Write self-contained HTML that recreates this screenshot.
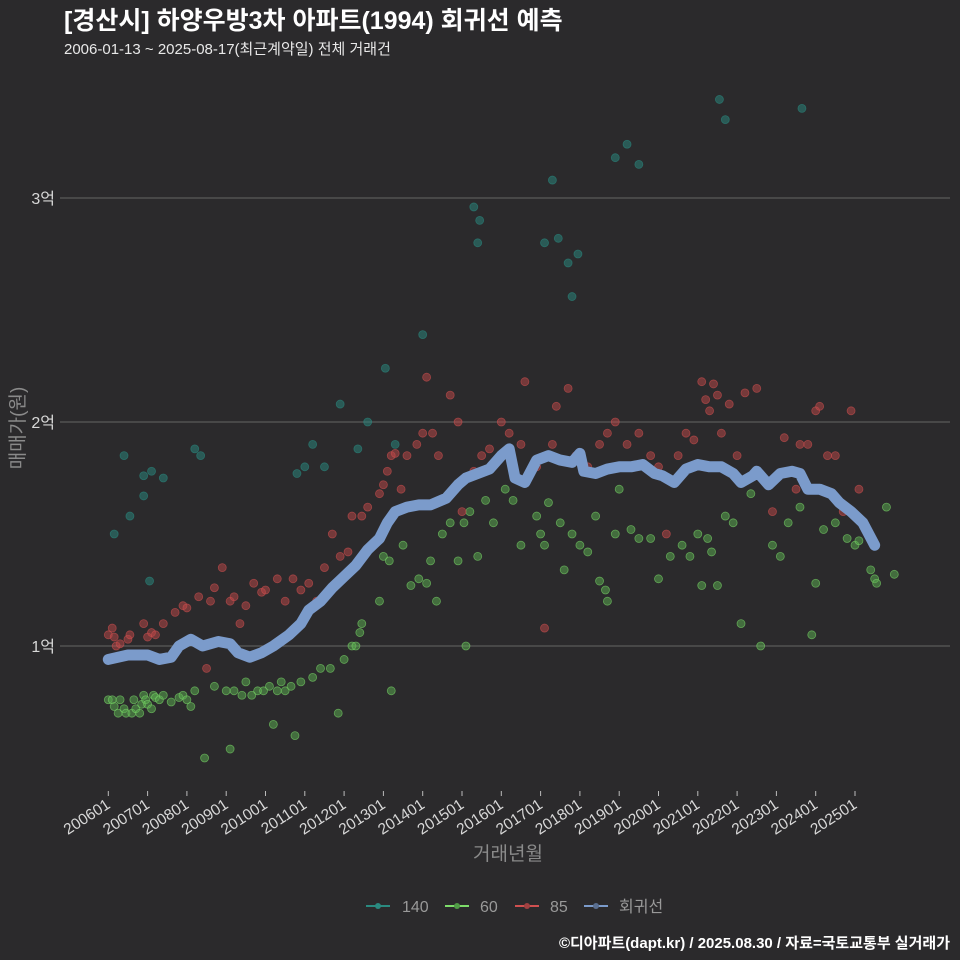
<!DOCTYPE html>
<html><head><meta charset="utf-8">
<style>
body{margin:0;background:#2b2a2c;}
svg{display:block;font-family:"Liberation Sans","Noto Sans CJK KR",sans-serif;}
</style></head>
<body>
<svg id="chart" width="960" height="960" viewBox="0 0 960 960" xmlns="http://www.w3.org/2000/svg">
<rect width="960" height="960" fill="#2b2a2c"/>
<text x="64" y="29" fill="#ffffff" font-size="25" font-weight="bold">[경산시] 하양우방3차 아파트(1994) 회귀선 예측</text>
<text x="64" y="54" fill="#e8e8e8" font-size="15">2006-01-13 ~ 2025-08-17(최근계약일) 전체 거래건</text>
<g id="grid"></g>
<g id="points"></g>
<g id="reg"></g>
<g id="axes"></g>
<text x="508" y="860" fill="#8a8a8a" font-size="19" text-anchor="middle">거래년월</text>
<text transform="translate(24,428) rotate(-90)" fill="#8a8a8a" font-size="19" text-anchor="middle">매매가(원)</text>
<g>
<g><line x1="366" y1="906" x2="390" y2="906" stroke="#2a8a80" stroke-width="2"/><circle cx="378" cy="906" r="3" fill="#2a8a80"/><text x="402" y="912" fill="#999" font-size="16">140</text></g>
<g><line x1="445" y1="906" x2="469" y2="906" stroke="#7ddc6a" stroke-width="2"/><circle cx="457" cy="906" r="3" fill="#4f9a45"/><text x="480" y="912" fill="#999" font-size="16">60</text></g>
<g><line x1="515" y1="906" x2="539" y2="906" stroke="#d05050" stroke-width="2"/><circle cx="527" cy="906" r="3" fill="#a04040"/><text x="550" y="912" fill="#999" font-size="16">85</text></g>
<g><line x1="584" y1="906" x2="608" y2="906" stroke="#7b9bcb" stroke-width="2"/><circle cx="596" cy="906" r="3" fill="#5a6f90"/><text x="619" y="912" fill="#999" font-size="16">회귀선</text></g>
</g>
<text x="950" y="948" fill="#ffffff" font-size="15" font-weight="bold" text-anchor="end">©디아파트(dapt.kr) / 2025.08.30 / 자료=국토교통부 실거래가</text>
</svg>
<script>
const yTicks=[1,2,3];
const yTickLabels=["1억","2억","3억"];
const xTickYears=[2006,2007,2008,2009,2010,2011,2012,2013,2014,2015,2016,2017,2018,2019,2020,2021,2022,2023,2024,2025];
const xTickLabels=["200601","200701","200801","200901","201001","201101","201201","201301","201401","201501","201601","201701","201801","201901","202001","202101","202201","202301","202401","202501"];
const s140=[[2006.15,1.5],[2006.4,1.85],[2006.55,1.58],[2006.9,1.67],[2006.9,1.76],[2007.05,1.29],[2007.1,1.78],[2007.4,1.75],[2008.2,1.88],[2008.35,1.85],[2010.8,1.77],[2011.0,1.8],[2011.2,1.9],[2011.5,1.8],[2011.9,2.08],[2012.35,1.88],[2012.6,2.0],[2013.05,2.24],[2013.3,1.9],[2014.0,2.39],[2015.3,2.96],[2015.4,2.8],[2015.45,2.9],[2017.1,2.8],[2017.3,3.08],[2017.45,2.82],[2017.7,2.71],[2017.8,2.56],[2017.95,2.75],[2018.9,3.18],[2019.2,3.24],[2019.5,3.15],[2021.55,3.44],[2021.7,3.35],[2023.65,3.4]];
const s60=[[2006.0,0.76],[2006.1,0.76],[2006.15,0.73],[2006.25,0.7],[2006.3,0.76],[2006.4,0.72],[2006.45,0.7],[2006.6,0.7],[2006.65,0.76],[2006.7,0.72],[2006.8,0.7],[2006.85,0.74],[2006.9,0.78],[2006.95,0.76],[2007.0,0.74],[2007.1,0.72],[2007.15,0.78],[2007.2,0.77],[2007.3,0.76],[2007.4,0.78],[2007.6,0.75],[2007.8,0.77],[2007.9,0.78],[2008.0,0.76],[2008.1,0.73],[2008.2,0.8],[2008.45,0.5],[2008.7,0.82],[2009.0,0.8],[2009.1,0.54],[2009.2,0.8],[2009.4,0.78],[2009.5,0.84],[2009.65,0.78],[2009.8,0.8],[2009.95,0.8],[2010.1,0.82],[2010.2,0.65],[2010.3,0.8],[2010.4,0.84],[2010.5,0.8],[2010.65,0.82],[2010.75,0.6],[2010.9,0.84],[2011.2,0.86],[2011.4,0.9],[2011.65,0.9],[2011.85,0.7],[2012.0,0.94],[2012.2,1.0],[2012.3,1.0],[2012.4,1.06],[2012.45,1.1],[2012.9,1.2],[2013.0,1.4],[2013.15,1.38],[2013.2,0.8],[2013.5,1.45],[2013.7,1.27],[2013.9,1.3],[2014.1,1.28],[2014.2,1.38],[2014.35,1.2],[2014.5,1.5],[2014.7,1.55],[2014.9,1.38],[2015.05,1.55],[2015.1,1.0],[2015.2,1.6],[2015.4,1.4],[2015.6,1.65],[2015.8,1.55],[2016.1,1.7],[2016.3,1.65],[2016.5,1.45],[2016.9,1.58],[2017.0,1.5],[2017.1,1.45],[2017.2,1.64],[2017.5,1.55],[2017.6,1.34],[2017.8,1.5],[2018.0,1.45],[2018.2,1.42],[2018.4,1.58],[2018.5,1.29],[2018.65,1.25],[2018.7,1.2],[2018.9,1.5],[2019.0,1.7],[2019.3,1.52],[2019.5,1.48],[2019.8,1.48],[2020.0,1.3],[2020.3,1.4],[2020.6,1.45],[2020.8,1.4],[2021.0,1.5],[2021.1,1.27],[2021.25,1.48],[2021.35,1.42],[2021.5,1.27],[2021.7,1.58],[2021.9,1.55],[2022.1,1.1],[2022.35,1.68],[2022.6,1.0],[2022.9,1.45],[2023.1,1.4],[2023.3,1.55],[2023.6,1.62],[2023.9,1.05],[2024.0,1.28],[2024.2,1.52],[2024.5,1.55],[2024.8,1.48],[2025.0,1.45],[2025.1,1.47],[2025.4,1.34],[2025.5,1.3],[2025.55,1.28],[2025.8,1.62],[2026.0,1.32]];
const s85=[[2006.0,1.05],[2006.1,1.08],[2006.15,1.04],[2006.2,1.0],[2006.3,1.01],[2006.5,1.03],[2006.55,1.05],[2006.9,1.1],[2007.0,1.04],[2007.1,1.06],[2007.2,1.05],[2007.4,1.1],[2007.7,1.15],[2007.9,1.18],[2008.0,1.17],[2008.3,1.22],[2008.5,0.9],[2008.6,1.2],[2008.7,1.26],[2008.9,1.35],[2009.1,1.2],[2009.2,1.22],[2009.35,1.1],[2009.5,1.18],[2009.7,1.28],[2009.9,1.24],[2010.0,1.25],[2010.3,1.3],[2010.5,1.2],[2010.7,1.3],[2010.9,1.25],[2011.1,1.28],[2011.3,1.2],[2011.5,1.35],[2011.7,1.5],[2011.9,1.4],[2012.1,1.42],[2012.2,1.58],[2012.45,1.58],[2012.6,1.62],[2012.9,1.68],[2013.0,1.72],[2013.1,1.78],[2013.2,1.85],[2013.3,1.86],[2013.45,1.7],[2013.6,1.85],[2013.85,1.9],[2014.0,1.95],[2014.1,2.2],[2014.25,1.95],[2014.4,1.85],[2014.7,2.12],[2014.9,2.0],[2015.0,1.6],[2015.3,1.78],[2015.5,1.85],[2015.7,1.88],[2016.0,2.0],[2016.2,1.95],[2016.5,1.9],[2016.6,2.18],[2016.9,1.8],[2017.1,1.08],[2017.3,1.9],[2017.4,2.07],[2017.7,2.15],[2017.9,1.85],[2018.2,1.8],[2018.5,1.9],[2018.7,1.95],[2018.9,2.0],[2019.2,1.9],[2019.5,1.95],[2019.8,1.85],[2020.0,1.8],[2020.2,1.5],[2020.5,1.85],[2020.7,1.95],[2020.9,1.92],[2021.1,2.18],[2021.2,2.1],[2021.3,2.05],[2021.4,2.17],[2021.5,2.12],[2021.6,1.95],[2021.8,2.08],[2022.0,1.85],[2022.2,2.13],[2022.5,2.15],[2022.9,1.6],[2023.2,1.93],[2023.5,1.7],[2023.6,1.9],[2023.8,1.9],[2024.0,2.05],[2024.1,2.07],[2024.3,1.85],[2024.5,1.85],[2024.7,1.6],[2024.9,2.05],[2025.1,1.7]];
const regT=[2006.0,2006.5,2007.0,2007.3,2007.6,2007.8,2008.1,2008.4,2008.8,2009.1,2009.3,2009.6,2009.9,2010.2,2010.6,2010.9,2011.1,2011.4,2011.7,2012.0,2012.3,2012.6,2012.9,2013.1,2013.3,2013.6,2013.9,2014.2,2014.6,2014.9,2015.1,2015.4,2015.7,2016.0,2016.2,2016.35,2016.6,2016.9,2017.2,2017.5,2017.8,2018.0,2018.1,2018.4,2018.7,2019.0,2019.3,2019.6,2019.9,2020.1,2020.4,2020.7,2021.0,2021.3,2021.6,2021.9,2022.1,2022.4,2022.5,2022.8,2023.1,2023.4,2023.6,2023.8,2024.1,2024.4,2024.6,2024.9,2025.2,2025.5];
const regV=[0.94,0.96,0.96,0.94,0.95,1.0,1.03,1.0,1.02,1.01,0.97,0.95,0.97,1.0,1.05,1.1,1.16,1.2,1.26,1.31,1.36,1.43,1.48,1.55,1.6,1.62,1.63,1.63,1.66,1.72,1.75,1.77,1.79,1.85,1.88,1.75,1.73,1.83,1.85,1.83,1.82,1.86,1.78,1.77,1.79,1.8,1.8,1.81,1.77,1.76,1.73,1.79,1.81,1.8,1.8,1.77,1.73,1.76,1.78,1.72,1.77,1.78,1.77,1.7,1.7,1.68,1.64,1.6,1.55,1.45];

const NS='http://www.w3.org/2000/svg';
function xS(t){return 108.3+(t-2006)*39.3;}
function yS(v){return 646-(v-1)*224;}
function mk(tag,attrs,parent){const e=document.createElementNS(NS,tag);for(const k in attrs)e.setAttribute(k,attrs[k]);parent.appendChild(e);return e;}
const grid=document.getElementById('grid'),axes=document.getElementById('axes'),pts=document.getElementById('points'),reg=document.getElementById('reg');
yTicks.forEach((v,i)=>{
  const l=mk('line',{x1:60,x2:950,y1:yS(v),y2:yS(v),stroke:'#5a5a5a','stroke-width':1.2},grid);
  
  
  const t=mk('text',{x:55,y:yS(v)+6,fill:'#d8d8d8','font-size':16,'text-anchor':'end'},axes);
  t.textContent=yTickLabels[i];
  
  
});
xTickYears.forEach((yr,i)=>{
  const x=xS(yr);
  const l=mk('line',{x1:x,x2:x,y1:791,y2:796,stroke:'#bbb','stroke-width':1},axes);
  
  
  const t=mk('text',{transform:`translate(${x+3},${807}) rotate(-33)`,fill:'#d8d8d8','font-size':15.5,'text-anchor':'end'},axes);
  t.textContent=xTickLabels[i];
  
  
});
function drawSeries(data,fill,stroke,name){
  data.forEach(d=>{
    const c=mk('circle',{cx:xS(d[0]),cy:yS(d[1]),r:4,fill:fill,'fill-opacity':0.5,stroke:stroke,'stroke-opacity':0.6,'stroke-width':0.8},pts);
    
    
  });
}
drawSeries(s140,'#2a8a80','#2a8a80','point-140');
drawSeries(s60,'#5cb050','#7ddc6a','point-60');
drawSeries(s85,'#c04848','#d05050','point-85');
const p=mk('polyline',{points:regT.map((t,i)=>xS(t)+','+yS(regV[i])).join(' '),fill:'none',stroke:'#7b9bcb','stroke-width':11,'stroke-linejoin':'round','stroke-linecap':'round'},reg);


</script>
</body></html>
